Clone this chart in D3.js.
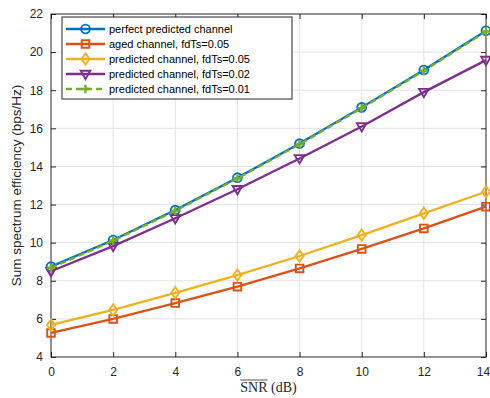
<!DOCTYPE html>
<html>
<head>
<meta charset="utf-8">
<script src="https://cdn.jsdelivr.net/npm/d3@7"></script>
<style>
  body { margin: 0; background: #fff; }
  svg text { font-family: "Liberation Sans", Arial, sans-serif; }
</style>
</head>
<body>
<svg id="chart" width="490" height="398"></svg>
<script>
// data
var snr = [0, 2, 4, 6, 8, 10, 12, 14];
var perfect = [8.74, 10.14, 11.71, 13.41, 15.2, 17.1, 19.06, 21.12];
var aged005 = [5.26, 6.0, 6.83, 7.69, 8.65, 9.67, 10.75, 11.89];
var pred005 = [5.68, 6.47, 7.37, 8.3, 9.3, 10.4, 11.54, 12.67];
var pred002 = [8.5, 9.82, 11.28, 12.8, 14.42, 16.1, 17.9, 19.58];
var pred001 = [8.68, 10.1, 11.67, 13.37, 15.16, 17.06, 19.02, 21.08];
var xTicks = [0, 2, 4, 6, 8, 10, 12, 14];
var yTicks = [4, 6, 8, 10, 12, 14, 16, 18, 20, 22];

var series = [
  {name: 'perfect predicted channel', values: perfect, color: '#0072BD', marker: 'circle', dash: null},
  {name: 'aged channel, fdTs=0.05', values: aged005, color: '#D95319', marker: 'square', dash: null},
  {name: 'predicted channel, fdTs=0.05', values: pred005, color: '#EDB120', marker: 'diamond', dash: null},
  {name: 'predicted channel, fdTs=0.02', values: pred002, color: '#7E2F8E', marker: 'triangle', dash: null},
  {name: 'predicted channel, fdTs=0.01', values: pred001, color: '#77AC30', marker: 'plus', dash: '6,4'}
];

(function() {
// layout
var pl = 51, pr = 486, pt = 14, pb = 357;

var x = d3.scaleLinear().domain([0, 14]).range([pl, pr]);
var y = d3.scaleLinear().domain([4, 22]).range([pb, pt]);

var svg = d3.select('#chart');

// grid
svg.append('g').selectAll('line')
  .data(xTicks.slice(1, -1))
  .enter().append('line')
    .attr('x1', function(d) { return x(d); })
    .attr('x2', function(d) { return x(d); })
    .attr('y1', pt).attr('y2', pb)
    .style('stroke', '#e3e3e3').style('stroke-width', 1);
svg.append('g').selectAll('line')
  .data(yTicks.slice(1, -1))
  .enter().append('line')
    .attr('y1', function(d) { return y(d); })
    .attr('y2', function(d) { return y(d); })
    .attr('x1', pl).attr('x2', pr)
    .style('stroke', '#e3e3e3').style('stroke-width', 1);

// axes (ticks inward, box on)
var axisColor = '#262626';
function styleAxis(g) {
  g.select('.domain').remove();
  g.selectAll('line').style('stroke', axisColor);
  g.selectAll('text').style('fill', axisColor).style('font-size', '12px')
    .style('font-family', '"Liberation Sans", Arial, sans-serif');
}
var xAxisG = svg.append('g')
  .attr('transform', 'translate(0,' + pb + ')')
  .call(d3.axisBottom(x).tickValues(xTicks).tickSize(-5).tickPadding(10).tickFormat(d3.format('d')))
  .call(styleAxis);
// keep the last label inside the window
xAxisG.selectAll('text').filter(function(d) { return d === 14; }).attr('dx', -3);
svg.append('g')
  .attr('transform', 'translate(' + pl + ',0)')
  .call(d3.axisLeft(y).tickValues(yTicks).tickSize(-5).tickPadding(8).tickFormat(d3.format('d')))
  .call(styleAxis);
svg.append('g')
  .attr('transform', 'translate(0,' + pt + ')')
  .call(d3.axisTop(x).tickValues(xTicks).tickSize(-5).tickFormat(''))
  .call(styleAxis);
svg.append('g')
  .attr('transform', 'translate(' + pr + ',0)')
  .call(d3.axisRight(y).tickValues(yTicks).tickSize(-5).tickFormat(''))
  .call(styleAxis);

svg.append('rect')
  .attr('x', pl).attr('y', pt)
  .attr('width', pr - pl).attr('height', pb - pt)
  .style('fill', 'none').style('stroke', axisColor).style('stroke-width', 1);

// marker path
function markerPath(type) {
  var r = 4.4;
  if (type === 'circle') return d3.symbol().type(d3.symbolCircle).size(Math.PI * r * r)();
  if (type === 'square') return 'M-3.8,-3.8H3.8V3.8H-3.8Z';
  if (type === 'diamond') return 'M0,-5.6L4,0L0,5.6L-4,0Z';
  if (type === 'triangle') return 'M-4.8,-3.3H4.8L0,5Z';
  if (type === 'plus') return 'M-4.2,0H4.2M0,-4.2V4.2';
}

var line = d3.line()
  .x(function(d) { return x(d[0]); })
  .y(function(d) { return y(d[1]); });

var plot = svg.append('g');
series.forEach(function(s) {
  var pts = snr.map(function(v, i) { return [v, s.values[i]]; });
  plot.append('path')
    .datum(pts)
    .attr('d', line)
    .style('fill', 'none')
    .style('stroke', s.color)
    .style('stroke-width', 2.3)
    .style('stroke-dasharray', s.dash);
  plot.selectAll(null)
    .data(pts)
    .enter().append('path')
      .attr('transform', function(d) { return 'translate(' + x(d[0]) + ',' + y(d[1]) + ')'; })
      .attr('d', markerPath(s.marker))
      .style('fill', 'none')
      .style('stroke', s.color)
      .style('stroke-width', s.marker === 'plus' ? 2.4 : 1.9);
});

// legend
var legend = svg.append('g');
legend.append('rect')
  .attr('x', 62).attr('y', 17).attr('width', 230).attr('height', 82)
  .style('fill', '#fff').style('stroke', axisColor).style('stroke-width', 1);
series.forEach(function(s, i) {
  var ly = 29 + i * 15;
  legend.append('line')
    .attr('x1', 66).attr('x2', 105).attr('y1', ly).attr('y2', ly)
    .style('stroke', s.color).style('stroke-width', 2.3)
    .style('stroke-dasharray', s.dash);
  legend.append('path')
    .attr('transform', 'translate(85.5,' + ly + ')')
    .attr('d', markerPath(s.marker))
    .style('fill', 'none').style('stroke', s.color)
    .style('stroke-width', s.marker === 'plus' ? 2.4 : 1.9);
  legend.append('text')
    .attr('x', 109).attr('y', ly + 4)
    .style('font-size', '11px').style('fill', '#000')
    .text(s.name);
});

// axis labels
svg.append('text')
  .attr('transform', 'translate(21,' + ((pt + pb) / 2) + ') rotate(-90)')
  .attr('text-anchor', 'middle')
  .style('font-size', '13.5px').style('fill', axisColor)
  .text('Sum spectrum efficiency (bps/Hz)');

var xl = svg.append('text')
  .attr('x', (pl + pr) / 2).attr('y', 392)
  .attr('text-anchor', 'middle')
  .style('font-family', '"Liberation Serif", "DejaVu Serif", serif')
  .style('font-size', '14px').style('fill', axisColor);
var snrSpan = xl.append('tspan').text('SNR');
xl.append('tspan').text(' (dB)');
// overline over SNR
var len = snrSpan.node().getComputedTextLength();
var start = xl.node().getStartPositionOfChar(0).x;
svg.append('line')
  .attr('x1', start).attr('x2', start + len)
  .attr('y1', 380).attr('y2', 380)
  .style('stroke', axisColor).style('stroke-width', 0.8);
})();
</script>
</body>
</html>
